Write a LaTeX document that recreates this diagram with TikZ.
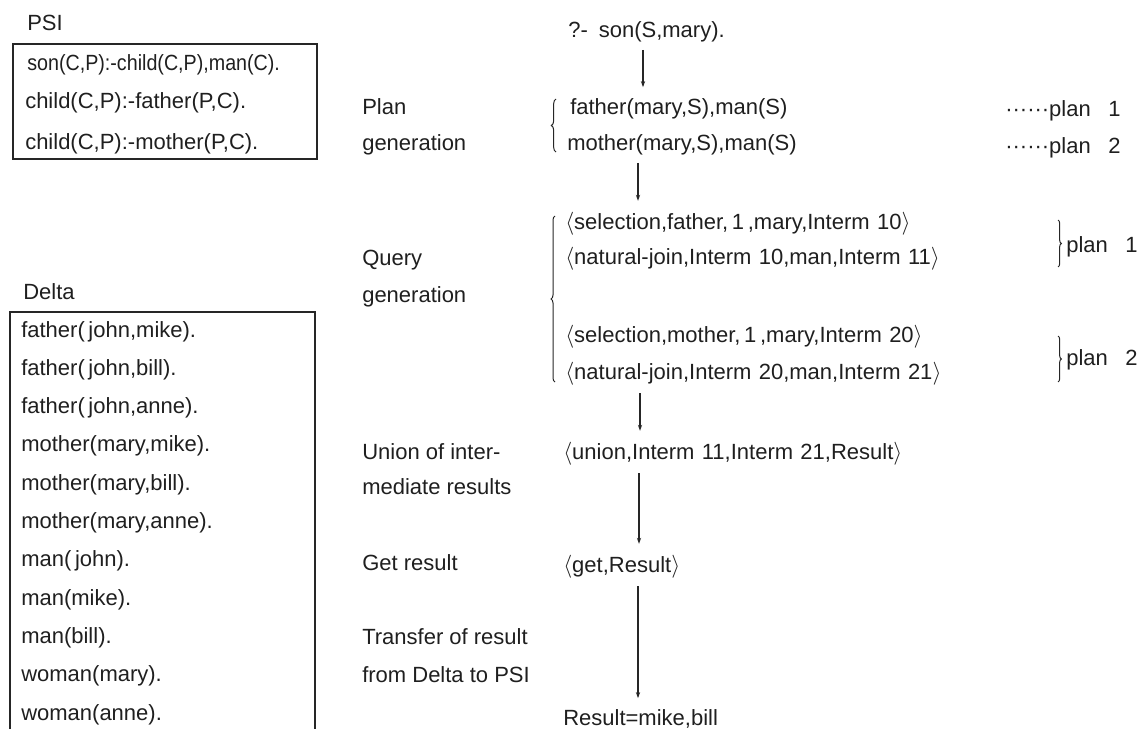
\documentclass[tikz,border=0pt]{standalone}
\usepackage{fontspec}
\setmainfont{Liberation Sans}
\usetikzlibrary{arrows.meta,decorations.pathreplacing}

\begin{document}
\begin{tikzpicture}[x=0.75pt,y=-0.75pt,
    txt/.style={anchor=base west,inner sep=0pt,font=\fontsize{16.5}{20}\selectfont,text=black!88},
    frame/.style={draw=black!85,line width=1.1pt},
    flow/.style={draw=black!85,line width=0.9pt,-{Stealth[length=4.5pt,width=3.2pt]},shorten <=6pt,shorten >=8pt},
    curly/.style={draw=black!85,line width=0.75pt,decorate,decoration={brace,amplitude=#1}},
    curly/.default=4pt]
\useasboundingbox (0,0) rectangle (1141,729);

% ---- PSI program ----
\node[txt] (psi) at (27,30) {PSI};
\draw[frame] (13,44) rectangle (317,159);
\node[txt] (r1) at (27,70) {\scalebox{0.895}[1]{son(C,P):-child(C,P),man(C).}};
\node[txt] (r2) at (25,108) {child(C,P):-father(P,C).};
\node[txt] (r3) at (25,149) {child(C,P):-mother(P,C).};

% ---- Delta facts ----
\node[txt] (delta) at (23,299) {Delta};
\draw[frame] (10,729) -- (10,312) -- (315,312) -- (315,729);
\foreach \t [count=\i from 0] in {%
    father(\,john{,}mike).,father(\,john{,}bill).,father(\,john{,}anne).,%
    mother(mary{,}mike).,mother(mary{,}bill).,mother(mary{,}anne).,%
    man(\,john).,man(mike).,man(bill).,woman(mary).,woman(anne).}
  \node[txt] (f\i) at (21,{337+38.3*\i}) {\t};

% ---- stage labels ----
\node[txt] (l1a) at (362,114) {Plan};
\node[txt] (l1b) at (362,150) {generation};
\node[txt] (l2a) at (362,265) {Query};
\node[txt] (l2b) at (362,302) {generation};
\node[txt] (l3a) at (362,459) {Union of inter-};
\node[txt] (l3b) at (362,494) {mediate results};
\node[txt] (l4)  at (362,570) {Get result};
\node[txt] (l5a) at (362,644) {Transfer of result};
\node[txt] (l5b) at (362,682) {from Delta to PSI};

% ---- query evaluation ----
\node[txt] (goal) at (568,37) {?-\hspace{0.5em}son(S,mary).};
\node[txt] (p1) at (570,114) {father(mary,S),man(S)};
\node[txt] (p2) at (567,150) {mother(mary,S),man(S)};
\node[txt] (q1) at (565,229) {$\langle$selection,father,\,1\,,mary,Interm\,\,10$\rangle$};
\node[txt] (q2) at (565,264) {$\langle$natural-join,Interm\,\,10,man,Interm\,\,11$\rangle$};
\node[txt] (q3) at (565,342) {$\langle$selection,mother,\,1\,,mary,Interm\,\,20$\rangle$};
\node[txt] (q4) at (565,379) {$\langle$natural-join,Interm\,\,20,man,Interm\,\,21$\rangle$};
\node[txt] (un) at (563,459) {$\langle$union,Interm\,\,11,Interm\,\,21,Result$\rangle$};
\node[txt] (gt) at (563,572) {$\langle$get,Result$\rangle$};
\node[txt] (res) at (563,725) {Result=mike,bill};

% ---- plan tags ----
\node[txt] (t1) at (1005,116) {······plan\hspace{0.8em}1};
\node[txt] (t2) at (1005,153) {······plan\hspace{0.8em}2};
\node[txt] (t3) at (1066,252) {plan\hspace{0.8em}1};
\node[txt] (t4) at (1066,365) {plan\hspace{0.8em}2};

% ---- braces ----
\draw[curly=3.5pt] (556,152) -- (556,99);
\draw[curly=3pt] (555,382) -- (555,216);
\draw[curly=2.5pt] (1058,220) -- (1058,267);
\draw[curly=2.5pt] (1058,336) -- (1058,382);

% ---- flow arrows ----
\coordinate (a1) at (643,0);
\coordinate (a2) at (638,0);
\coordinate (a3) at (640,0);
\coordinate (a4) at (639,0);
\coordinate (a5) at (638,0);
\draw[flow] (goal.south -| a1) -- (p1.north -| a1);
\draw[flow] (p2.south -| a2) -- (q1.north -| a2);
\draw[flow] (q4.south -| a3) -- (un.north -| a3);
\draw[flow] (un.south -| a4) -- (gt.north -| a4);
\draw[flow] (gt.south -| a5) -- (res.north -| a5);
\end{tikzpicture}
\end{document}
